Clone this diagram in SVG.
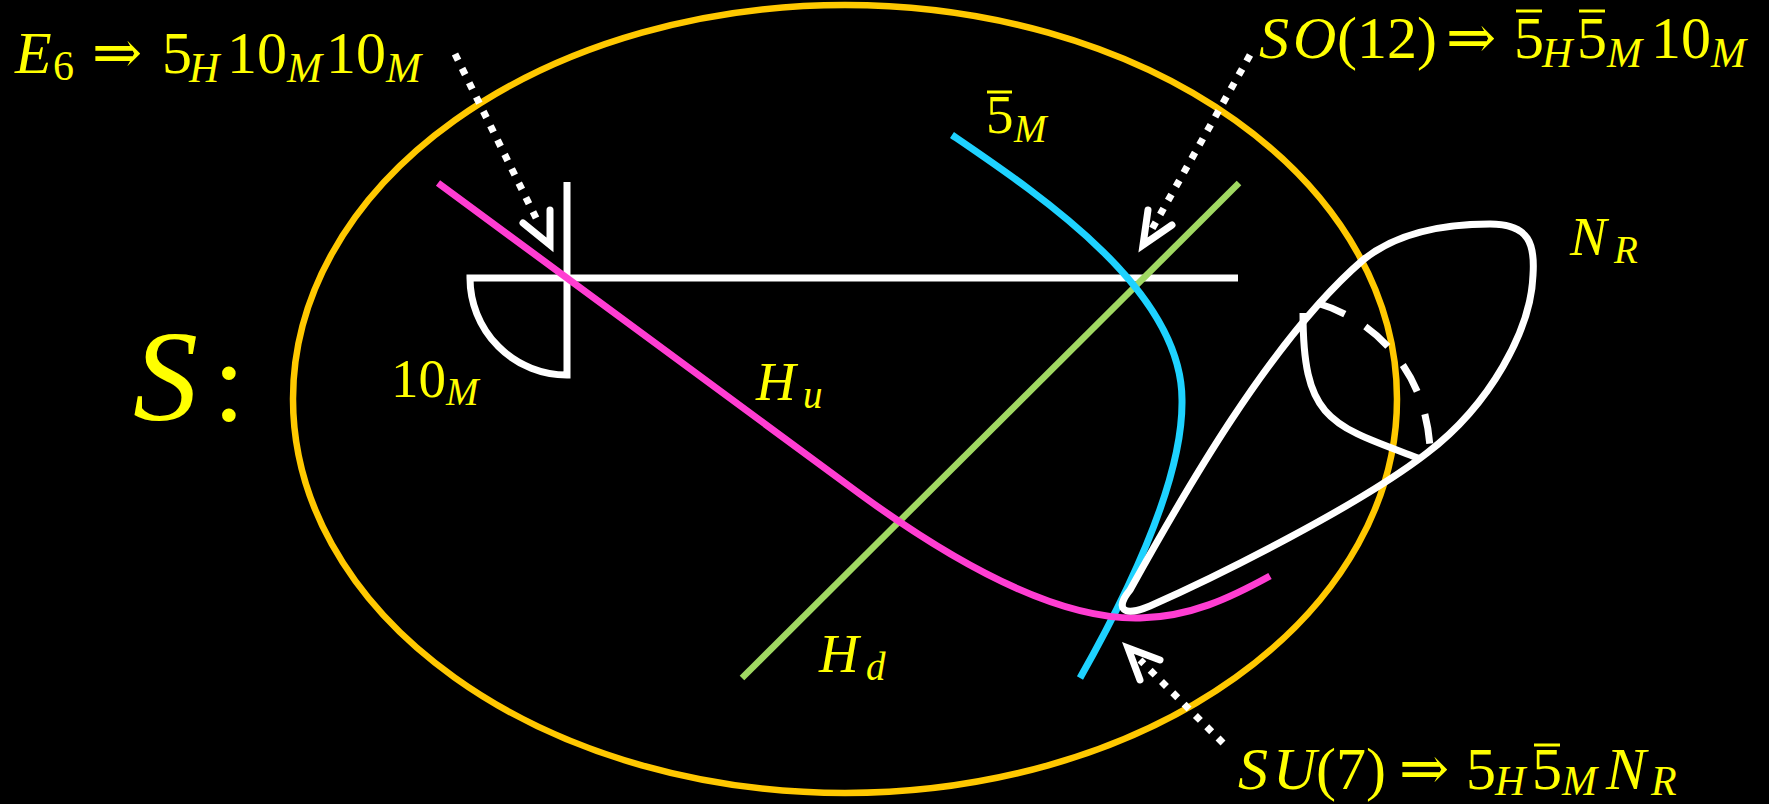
<svg xmlns="http://www.w3.org/2000/svg" width="1769" height="804" viewBox="0 0 1769 804">
<defs>
<style>
.t{font-family:"Liberation Serif","DejaVu Serif",serif;fill:#FFFF00;font-size:55px}
.b{font-size:60px}
.i{font-style:italic}
.s{font-size:39px}
.bs{font-size:42px}
.bar{stroke:#FFFF00;stroke-width:3}
.w{fill:none;stroke:#FFFFFF;stroke-width:7}
.dot{fill:none;stroke:#FFFFFF;stroke-width:7;stroke-dasharray:7 9}
.head{fill:none;stroke:#FFFFFF;stroke-width:7;stroke-linejoin:miter;stroke-linecap:round}
</style>
</defs>
<rect width="1769" height="804" fill="#000000"/>
<g id="surface-S">
<ellipse cx="845" cy="399" rx="552" ry="394" fill="none" stroke="#FFC800" stroke-width="6.5"/>
</g>
<g id="brane-10M">
<path class="w" d="M 1238 278 L 470 278 A 97 97 0 0 0 567 375 L 567 182" stroke-linejoin="miter"/>
</g>
<g id="curve-Hd">
<line x1="742" y1="678" x2="1239" y2="183" stroke="#A0D862" stroke-width="6.5"/>
</g>
<g id="curve-5M">
<path d="M 952 135 C 1040 195, 1182 290, 1182 400 C 1183 470, 1140 572, 1080 678" fill="none" stroke="#1ED2FF" stroke-width="7"/>
</g>
<g id="curve-Hu">
<path d="M 438 183 L 860 494 C 960 567, 1060 620, 1140 618 C 1190 617, 1230 598, 1270 576" fill="none" stroke="#FF3DD2" stroke-width="7"/>
</g>
<g id="lobe-NR">
<path class="w" d="M 1130 590 C 1180 500, 1270 340, 1363 260 C 1400 230, 1450 224, 1490 224 C 1530 224, 1535 245, 1533 275 C 1531 330, 1490 405, 1427 453 C 1360 505, 1220 575, 1150 606 C 1122 618, 1115 608, 1130 590 Z"/>
<path class="w" d="M 1303 313 C 1303 420, 1330 425, 1418 458"/>
<path class="w" d="M 1317 303 C 1375 320, 1425 370, 1430 447" stroke-dasharray="30 24"/>
</g>
<g id="connectors">
<path class="dot" d="M 455 54 L 540 226"/>
<path class="head" d="M 523 223 L 550 245 L 550 210"/>
<path class="dot" d="M 1250 55 L 1152 229"/>
<path class="head" d="M 1148 210 L 1143 245 L 1172 225"/>
<path class="dot" d="M 1223 743 L 1140 660"/>
<path class="head" d="M 1140 680 L 1128 648 L 1160 660"/>
</g>
<g id="label-S">
<text class="t i" x="133" y="420" style="font-size:130px">S</text>
<text class="t" x="213" y="420" style="font-size:115px">:</text>
</g>
<g id="label-E6">
<text class="t b"><tspan class="i" x="15" y="73">E</tspan><tspan class="bs" x="53" y="80">6</tspan><tspan x="92" y="73">⇒</tspan><tspan x="162" y="73">5</tspan><tspan class="bs i" x="189" y="82">H</tspan><tspan x="227" y="73">10</tspan><tspan class="bs i" x="287" y="82">M</tspan><tspan x="326" y="73">10</tspan><tspan class="bs i" x="386" y="82">M</tspan></text>
</g>
<g id="label-SO12">
<text class="t b"><tspan class="i" x="1259" y="58">S</tspan><tspan class="i" x="1293" y="58">O</tspan><tspan x="1337" y="58">(</tspan><tspan x="1357" y="58">12</tspan><tspan x="1417" y="58">)</tspan><tspan x="1446" y="58">⇒</tspan><tspan x="1514" y="58">5</tspan><tspan class="bs i" x="1542" y="67">H</tspan><tspan x="1577" y="58">5</tspan><tspan class="bs i" x="1607" y="67">M</tspan><tspan x="1651" y="58">10</tspan><tspan class="bs i" x="1711" y="67">M</tspan></text>
<line class="bar" x1="1516" y1="11" x2="1542" y2="11"/>
<line class="bar" x1="1579" y1="11" x2="1605" y2="11"/>
</g>
<g id="label-SU7">
<text class="t b"><tspan class="i" x="1238" y="789">S</tspan><tspan class="i" x="1273" y="789">U</tspan><tspan x="1316" y="789">(</tspan><tspan x="1336" y="789">7</tspan><tspan x="1366" y="789">)</tspan><tspan x="1399" y="789">⇒</tspan><tspan x="1466" y="789">5</tspan><tspan class="bs i" x="1495" y="795">H</tspan><tspan x="1532" y="789">5</tspan><tspan class="bs i" x="1562" y="795">M</tspan><tspan class="i" x="1606" y="789">N</tspan><tspan class="bs i" x="1651" y="795">R</tspan></text>
<line class="bar" x1="1534" y1="745" x2="1560" y2="745"/>
</g>
<g id="label-10M">
<text class="t"><tspan x="391" y="397">10</tspan><tspan class="s i" x="446" y="405">M</tspan></text>
</g>
<g id="label-5M">
<text class="t"><tspan x="986" y="133">5</tspan><tspan class="s i" x="1014" y="142">M</tspan></text>
<line class="bar" x1="987" y1="92" x2="1012" y2="92"/>
</g>
<g id="label-Hu">
<text class="t"><tspan class="i" x="756" y="400">H</tspan><tspan class="s i" x="803" y="408">u</tspan></text>
</g>
<g id="label-Hd">
<text class="t"><tspan class="i" x="819" y="672">H</tspan><tspan class="s i" x="866" y="680">d</tspan></text>
</g>
<g id="label-NR">
<text class="t"><tspan class="i" x="1570" y="255">N</tspan><tspan class="s i" x="1614" y="263">R</tspan></text>
</g>
</svg>
